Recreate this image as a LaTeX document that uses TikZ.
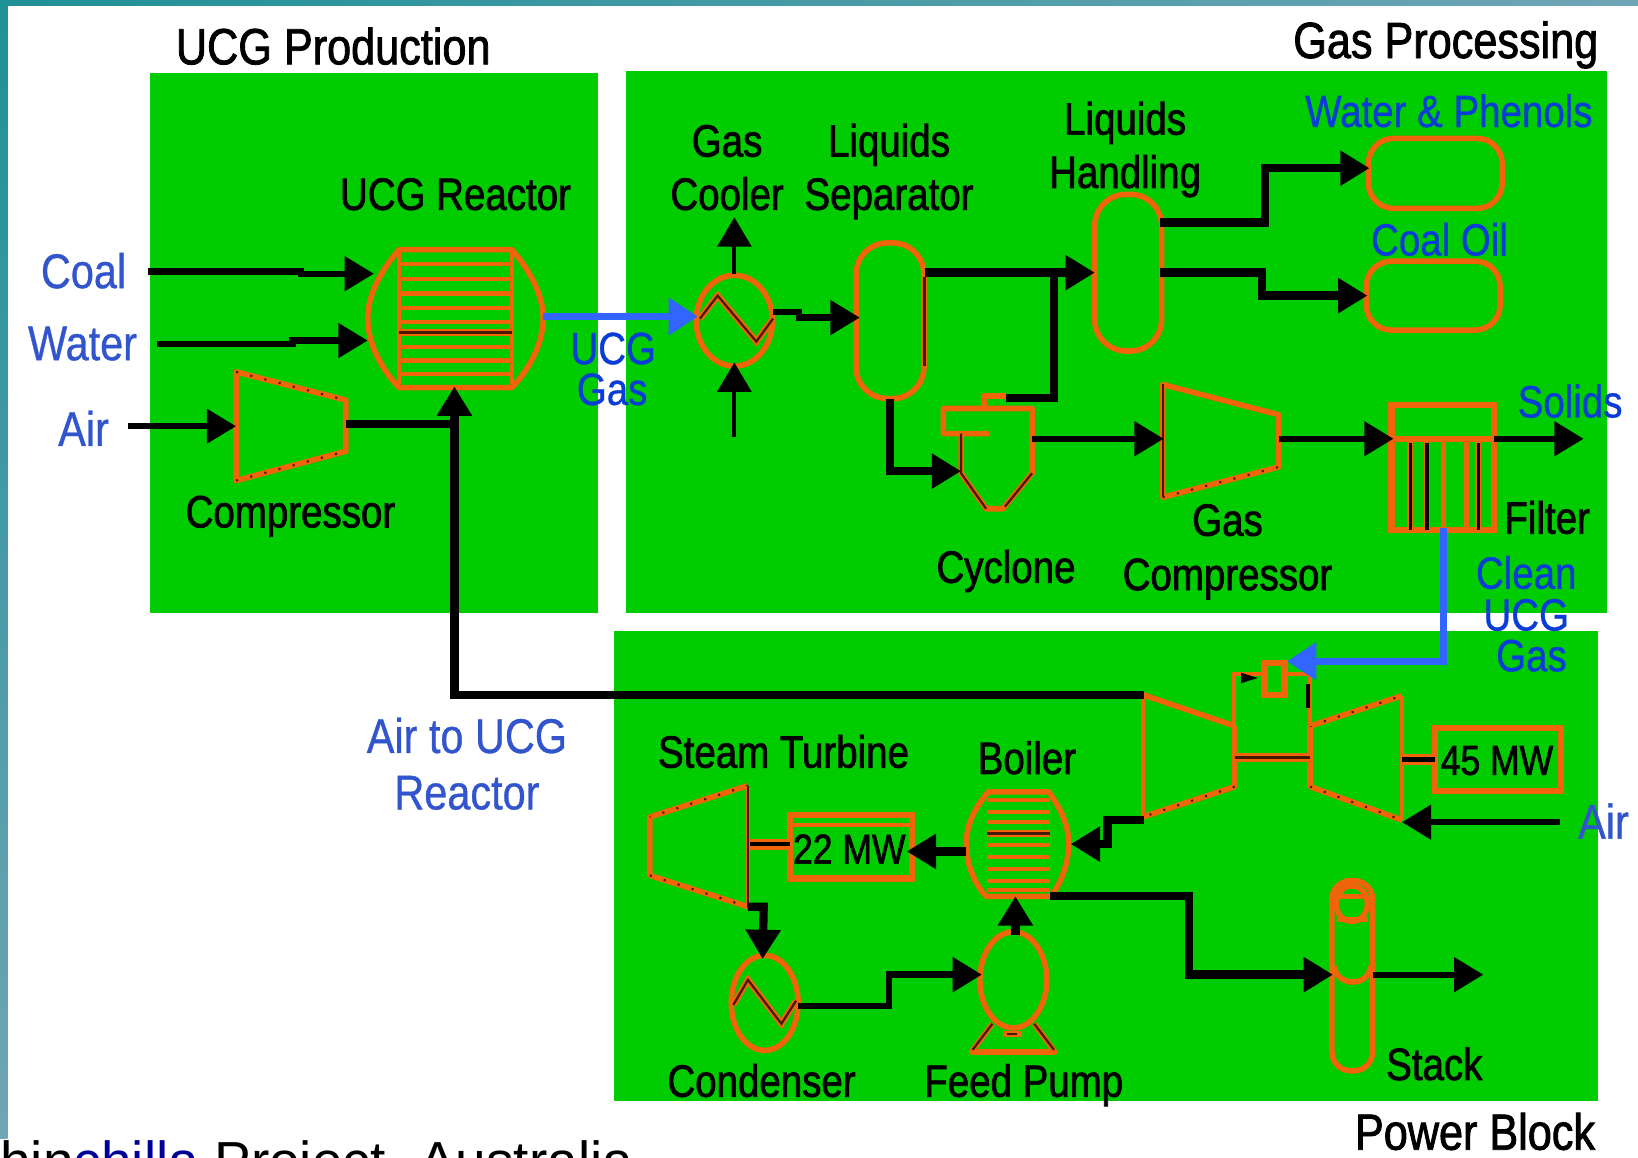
\documentclass[tikz,border=0pt]{standalone}
\usepackage{fontspec}
\setmainfont[FakeStretch=0.85,FakeBold=1.6]{Liberation Sans}
\newfontfamily\bluefont[FakeStretch=0.85,FakeBold=0.7]{Liberation Sans}
\newfontfamily\plainfont{Liberation Sans}
\usetikzlibrary{arrows.meta,calc,shapes.geometric}
\definecolor{grn}{RGB}{0,204,0}
\definecolor{org}{RGB}{240,100,10}
\definecolor{bArrow}{RGB}{50,100,255}
\definecolor{bText}{RGB}{10,60,215}
\definecolor{bLight}{RGB}{50,85,205}
\definecolor{dk}{RGB}{70,25,0}
\definecolor{frameA}{RGB}{30,145,150}
\definecolor{frameB}{RGB}{112,165,182}
\tikzset{
  zone/.style={fill=grn,draw=none},
  eq/.style={draw=org,line width=4pt,line join=round,fill=none},
  thin eq/.style={draw=org,line width=3pt},
  dkline/.style={draw=dk,line width=1.6pt},
  dots/.style={draw=dk,line width=1.5pt,dash pattern=on 1.5pt off 9pt},
  pipe/.style={draw=black,line width=4.5pt,-{Triangle[length=21pt,width=24pt]}},
  fatpipe/.style={draw=black,line width=6pt,-{Triangle[length=21pt,width=24pt]}},
  plainpipe/.style={draw=black,line width=5pt},
  bluepipe/.style={draw=bArrow,line width=5pt,-{Triangle[length=21pt,width=26pt]}},
  txt/.style={inner sep=0pt,text depth=0pt},
  lab/.style={txt,text height=23.8pt,text=black,font=\fontsize{32.5}{36}\selectfont},
  mwlab/.style={txt,text height=22pt,text=black,font=\fontsize{30}{33}\selectfont},
  title/.style={txt,text height=26.3pt,text=black,font=\fontsize{36.5}{38}\selectfont},
  blu/.style={txt,text height=23.4pt,text=bText,font=\bluefont\fontsize{32.5}{34}\selectfont},
  blw/.style={txt,text height=25.2pt,text=bLight,font=\bluefont\fontsize{35}{38}\selectfont},
  vessel/.style n args={3}{draw=org,line width=4pt,fill=none,rounded corners=#3*0.75pt,
     minimum width=#1*0.75pt,minimum height=#2*0.75pt,inner sep=0pt},
  vell/.style 2 args={ellipse,draw=org,line width=4pt,fill=none,
     minimum width=#1*0.75pt,minimum height=#2*0.75pt,inner sep=0pt},
  boxn/.style 2 args={rectangle,draw=org,line width=4.5pt,fill=none,
     minimum width=#1*0.75pt,minimum height=#2*0.75pt,inner sep=0pt},
}
\begin{document}
\begin{tikzpicture}[x=0.75pt,y=-0.75pt]
\useasboundingbox (0,0) rectangle (1568,1108);
\clip (0,0) rectangle (1568,1108);
\fill[white] (0,0) rectangle (1568,1108);
% slide frame
\shade[left color=frameA,right color=frameB] (0,0) rectangle (1568,5);
\shade[top color=frameA,bottom color=frameB] (0,0) rectangle (7,1090);
% zones
\fill[zone] (144,70) rectangle (572,587);
\fill[zone] (599,68) rectangle (1538,587);
\fill[zone] (588,604) rectangle (1530,1054);

% ---------- ports ----------
\coordinate (coalS) at (142,260);
\coordinate (waterS) at (150,329);
\coordinate (airS) at (123,408);
\coordinate (rcW1) at (358,262);
\coordinate (rcW2) at (352,326);
\coordinate (rcE) at (520,303);
\coordinate (rcS) at (435,370);
\coordinate (cpW) at (226,408);
\coordinate (cpE) at (331,406);
\coordinate (gcW) at (668,303);
\coordinate (gcN) at (703,262);
\coordinate (gcNe) at (703,208);
\coordinate (gcS) at (703,347);
\coordinate (gcSs) at (703,418);
\coordinate (gcE) at (740,299);
\coordinate (lsW) at (823,304);
\coordinate (lsE) at (885,261);
\coordinate (lsS) at (852,382);
\coordinate (lhW) at (1048,261);
\coordinate (lhE1) at (1110,213);
\coordinate (lhE2) at (1110,261);
\coordinate (wtW) at (1311,161);
\coordinate (coW) at (1309,283);
\coordinate (cyTop) at (963,381);
\coordinate (cyW) at (920,451);
\coordinate (cyE) at (988,420);
\coordinate (junc) at (1009,261);
\coordinate (gpW) at (1114,420);
\coordinate (gpE) at (1224,420);
\coordinate (flW) at (1334,420);
\coordinate (flE) at (1430,420);
\coordinate (solids) at (1516,420);
\coordinate (flS) at (1382,505);
\coordinate (gtIn) at (1232,633);
\coordinate (tcNW) at (1095,665);
\coordinate (tcSW) at (1095,785);
\coordinate (blE) at (1025,808);
\coordinate (blW) at (925,815);
\coordinate (mw22E) at (868,815);
\coordinate (blN) at (972,858);
\coordinate (fpN) at (972,895);
\coordinate (blSE) at (1005,858);
\coordinate (stW) at (1276,933);
\coordinate (stE) at (1314,933);
\coordinate (stOut) at (1420,933);
\coordinate (airR) at (1493,787);
\coordinate (ttE) at (1342,787);
\coordinate (stS) at (716,868);
\coordinate (cnN) at (730,918);
\coordinate (cnE) at (764,963);
\coordinate (fpW) at (940,933);

% ---------- UCG production equipment ----------
\draw[eq] (382,239) -- (490,239) .. controls (510,262) and (520,285) .. (520,305)
   .. controls (520,325) and (510,350) .. (490,371) -- (382,371)
   .. controls (362,350) and (352,325) .. (352,305) .. controls (352,285) and (362,262) .. (382,239) -- cycle;
\draw[thin eq] (382,239) -- (382,371) (490,239) -- (490,371);
\foreach \y in {253,267,281,295,308,332,345,358} \draw[thin eq] (382,\y) -- (490,\y);
\draw[org,line width=5pt] (382,318) -- (490,318);
\draw[draw=dk,line width=2.4pt] (382,318) -- (490,318);
\draw[eq] (226,356) -- (331,383) -- (331,432) -- (226,460) -- cycle;
\draw[dots] (226,356) -- (331,383) (226,460) -- (331,432);

% ---------- gas processing equipment ----------
\node[vell={73}{87}] (cooler) at (703,307) {};
\draw[org,line width=4.5pt] (670,305) -- (687,283) -- (724,327) -- (740,305);
\draw[dkline] (670,305) -- (687,283) -- (724,327) -- (740,305);
\node[vessel={65}{149}{30}] (sep) at (852,307) {};
\draw[dkline] (885,265) -- (885,350);
\node[vessel={64}{150}{30}] (handling) at (1080,261) {};
\node[vessel={128}{67}{24}] (watertank) at (1374,166) {};
\node[vessel={128}{66}{24}] (oiltank) at (1372,283) {};
\draw[eq] (942,391) -- (942,379) -- (963,379);
\draw[eq] (947,415) -- (903,415) -- (903,391) -- (988,391) -- (988,453) -- (960,487) -- (944,487) -- (920,453) -- (920,415);
\draw[dkline] (920,415) -- (920,453) -- (944,487);
\draw[dkline] (988,453) -- (962,485);
\draw[eq] (1113,368) -- (1224,397) -- (1224,447) -- (1113,476) -- cycle;
\draw[dkline] (1113,368) -- (1113,476);
\draw[dots] (1113,476) -- (1224,447);
\node[boxn={98}{32}] (filtertop) at (1381,404) {};
\node[boxn={98}{87}] (filterbody) at (1381,463.5) {};
\foreach \x in {1350,1366,1415} \draw[org,line width=4.5pt] (\x,420) -- (\x,507);
\foreach \x in {1350,1366,1415} \draw[black,line width=2.2pt] (\x,424) -- (\x,507);
\foreach \x in {1382,1404} \draw[org,line width=4pt] (\x,420) -- (\x,507);

% ---------- power block equipment ----------
\draw[thin eq] (1094,665) -- (1094,782);
\draw[eq] (1094,665) -- (1182,695);
\draw[eq] (1182,695) -- (1182,753) -- (1094,782);
\draw[dots] (1182,753) -- (1094,782);
\draw[eq] (1254,695) -- (1342,666);
\draw[eq] (1254,695) -- (1254,753) -- (1342,785);
\draw[thin eq] (1342,666) -- (1342,785);
\draw[dots] (1254,695) -- (1342,666) (1254,753) -- (1342,785);
\draw[org,line width=6pt] (1182,725) -- (1254,725);
\draw[dk,line width=2pt] (1182,725) -- (1254,725);
\draw[thin eq] (1181,695) -- (1181,645) -- (1210,645);
\node[boxn={19}{30}] (burner) at (1220,650) {};
\draw[thin eq] (1230,645) -- (1254,645) -- (1254,695);
\draw[black,line width=2.4pt] (1252,655) -- (1252,678);
\fill[black] (1188,644) -- (1204,649) -- (1188,654) -- cycle;
\node[boxn={120}{60}] (mw45) at (1434,727) {};
\draw[org,line width=8pt] (1342,727) -- (1374,727);
\draw[black,line width=3.2pt] (1342,727) -- (1374,727);
\draw[eq] (946,758) -- (1004,758) .. controls (1016,775) and (1023,790) .. (1023,808)
   .. controls (1023,826) and (1016,845) .. (1006,858) -- (944,858)
   .. controls (932,845) and (925,826) .. (925,808) .. controls (925,790) and (932,775) .. (946,758) -- cycle;
\foreach \y in {766,777,787,809,820,832,843,852} \draw[thin eq] (945,\y) -- (1005,\y);
\draw[org,line width=5pt] (945,798) -- (1005,798);
\draw[draw=dk,line width=2.4pt] (945,798) -- (1005,798);
\node[boxn={117}{61}] (mw22) at (814.5,810.5) {};
\draw[thin eq] (756,790) -- (873,790);
\draw[org,line width=8pt] (716,808) -- (756,808);
\draw[black,line width=3.2pt] (716,808) -- (756,808);
\draw[eq] (716,752) -- (622,782) -- (622,838) -- (716,868);
\draw[dots] (716,752) -- (622,782) (622,838) -- (716,868);
\draw[org,line width=3.5pt] (716,752) -- (716,868);
\draw[dkline] (716,752) -- (716,868);
\node[vell={64}{91}] (condenser) at (732,960) {};
\draw[org,line width=4.5pt] (702,962) -- (716,938) -- (748,980) -- (762,958);
\draw[dkline] (702,962) -- (716,938) -- (748,980) -- (762,958);
\node[vell={64}{92}] (pump) at (970,938) {};
\draw[eq] (950,980) -- (930,1007) -- (1010,1007) -- (990,980);
\draw[dkline] (950,980) -- (931,1005) (990,980) -- (1009,1005);
\draw[org,line width=4.5pt] (960,990) -- (978,990);
\draw[dkline] (964,990) -- (974,990);
\node[vessel={39}{182}{18}] (stack) at (1294.5,934) {};
\node[vell={30}{34}] (stacktop) at (1294,865) {};
\draw[eq] (1280,880) -- (1310,880) (1280,858) -- (1310,858);
\draw[eq] (1277,925) .. controls (1280,945) and (1310,945) .. (1312,925);

% ---------- connectors ----------
\draw[pipe] (coalS) -- ++(146,0) -- ++(0,2) -- (rcW1);
\draw[pipe] (waterS) -- ++(130,0) -- ++(0,-3) -- (rcW2);
\draw[pipe] (airS) -- (cpW);
\draw[plainpipe,line width=6pt] (cpE) -- (435,406);
\draw[draw=black,line width=6pt,-{Triangle[length=21pt,width=24pt]}] (tcNW) -| (rcS);
\draw[bluepipe] (rcE) -- (gcW);
\draw[draw=black,line width=3pt,-{Triangle[length=21pt,width=24pt]}] (gcN) -- (gcNe);
\draw[draw=black,line width=3pt,-{Triangle[length=21pt,width=24pt]}] (gcSs) -- (gcS);
\draw[pipe] (gcE) -- ++(25,0) -- ++(0,5) -- (lsW);
\draw[fatpipe] (lsE) -- (lhW);
\draw[plainpipe,line width=6pt] (junc) -- ++(0,120) -- (cyTop);
\draw[fatpipe,line width=5.5pt] (lsS) |- (cyW);
\draw[fatpipe] (lhE1) -- ++(101,0) |- (wtW);
\draw[fatpipe] (lhE2) -- ++(98,0) |- (coW);
\draw[pipe] (cyE) -- (gpW);
\draw[pipe] (gpE) -- (flW);
\draw[pipe] (flE) -- (solids);
\draw[bluepipe] (flS) |- (gtIn);
\draw[pipe] (airR) -- (ttE);
\draw[fatpipe] (tcSW) -- ++(-35,0) -- ++(0,23) -- (blE);
\draw[fatpipe] (blW) -- (mw22E);
\draw[fatpipe] (fpN) -- (blN);
\draw[fatpipe] (blSE) -- ++(133,0) |- (stW);
\draw[pipe] (stE) -- (stOut);
\draw[fatpipe] (stS) -- ++(15,0) -- (cnN);
\draw[pipe,line width=5pt] (cnE) -- ++(87,0) |- (fpW);

% ---------- labels ----------
\node[title] (tUCG) at (319,44) {UCG Production};
\node[title] (tGas) at (1384,38) {Gas Processing};
\node[title] (tPow) at (1412,1083) {Power Block};
\node[lab] (lReactor) at (436,185) {UCG Reactor};
\node[lab] (lComp) at (278,489) {Compressor};
\node[lab] (lGas1) at (696,134) {Gas};
\node[lab] (lCool) at (696,185) {Cooler};
\node[lab] (lLiq1) at (851,134) {Liquids};
\node[lab] (lSep) at (851,185) {Separator};
\node[lab] (lLiq2) at (1077,113) {Liquids};
\node[lab] (lHand) at (1077,164) {Handling};
\node[lab] (lCyc) at (963,542) {Cyclone};
\node[lab] (lGas2) at (1175,497) {Gas};
\node[lab] (lComp2) at (1175,549) {Compressor};
\node[lab] (lFilt) at (1481,495) {Filter};
\node[lab] (lST) at (750,719) {Steam Turbine};
\node[lab] (lBoil) at (983,725) {Boiler};
\node[mwlab] (l22) at (813,812) {22 MW};
\node[mwlab] (l45) at (1433,727) {45 MW};
\node[lab] (lCond) at (729,1034) {Condenser};
\node[lab] (lFP) at (980,1034) {Feed Pump};
\node[lab] (lStack) at (1373,1018) {Stack};
\node[blw] (bCoal) at (80,259) {Coal};
\node[blw] (bWater) at (79,328) {Water};
\node[blw] (bAir) at (80,410) {Air};
\node[blw] (bAir2) at (1535,786) {Air};
\node[blw] (bAU1) at (447,704) {Air to UCG};
\node[blw] (bAU2) at (447,758) {Reactor};
\node[blu] (bUCG) at (587,333) {UCG};
\node[blu] (bGas) at (586,372) {Gas};
\node[blu] (bWP) at (1387,106) {Water \& Phenols};
\node[blu] (bCO) at (1378,229) {Coal Oil};
\node[blu] (bSol) at (1503,384) {Solids};
\node[blu] (bCl) at (1461,548) {Clean};
\node[blu] (bU2) at (1461,588) {UCG};
\node[blu] (bG2) at (1466,627) {Gas};
\node[anchor=base west,inner sep=0pt,text=black,font=\plainfont\fontsize{39.5}{42}\selectfont] (caption) at (0,1130) {hin\textcolor{blue!60!black}{chilla} Project- Australia};
\end{tikzpicture}
\end{document}
